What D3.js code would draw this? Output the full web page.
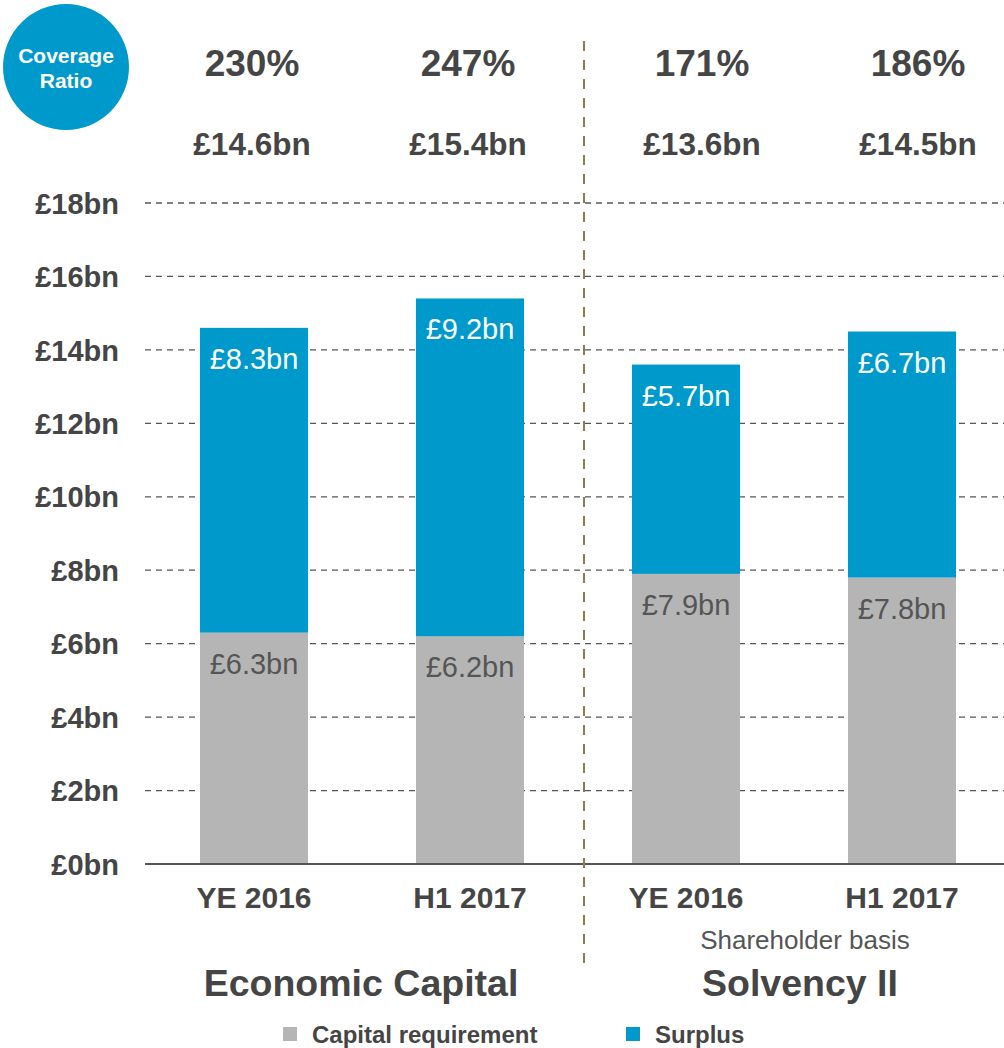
<!DOCTYPE html>
<html>
<head>
<meta charset="utf-8">
<script src="https://cdn.jsdelivr.net/npm/d3@7"></script>
<style>
  body { margin: 0; background: #fff; }
  svg { display: block; font-family: "Liberation Sans", Arial, sans-serif; }
</style>
</head>
<body>
<svg id="chart" width="1004" height="1048"></svg>
<script>
// data
var periods = ["YE 2016", "H1 2017", "YE 2016", "H1 2017"];
var groups = ["Economic Capital", "Solvency II"];
var requirement = [6.3, 6.2, 7.9, 7.8];
var surplus = [8.3, 9.2, 5.7, 6.7];
var coverage = ["230%", "247%", "171%", "186%"];
var totals = ["£14.6bn", "£15.4bn", "£13.6bn", "£14.5bn"];
var yTicks = [0, 2, 4, 6, 8, 10, 12, 14, 16, 18];

var blue = "#0099cc";
var grey = "#b5b5b5";
var ink = "#454545";

var svg = d3.select("#chart");

var x = d3.scaleBand()
    .domain(d3.range(periods.length))
    .range([146, 1010])
    .paddingInner(0.5)
    .paddingOuter(0.25);

var y = d3.scaleLinear()
    .domain([0, 18])
    .range([864, 203]);

// headline figures for Solvency II sit a little right of their bars
function headX(i) {
    return x(i) + x.bandwidth() / 2 + (i >= 2 ? 16 : -2);
}

// gridlines
svg.append("g")
    .selectAll("line")
    .data(yTicks.filter(d => d > 0))
    .enter().append("line")
    .attr("x1", 145)
    .attr("x2", 1004)
    .attr("y1", d => y(d))
    .attr("y2", d => y(d))
    .attr("stroke", "#555")
    .attr("stroke-width", 1.3)
    .attr("stroke-dasharray", "6,5");

// y axis labels
var yAxis = d3.axisLeft(y)
    .tickValues(yTicks)
    .tickSize(0)
    .tickPadding(0)
    .tickFormat(d => "£" + d + "bn");
var yg = svg.append("g")
    .attr("transform", "translate(119,0)")
    .call(yAxis);
yg.select(".domain").remove();
yg.selectAll("text")
    .attr("font-family", "Liberation Sans, Arial, sans-serif")
    .attr("font-size", 29)
    .attr("font-weight", "bold")
    .attr("fill", ink)
    .attr("dy", "0.35em");

// stacked bars
var stacked = periods.map((p, i) => ({ i: i, req: requirement[i], sur: surplus[i] }));

var bars = svg.append("g").selectAll("g")
    .data(stacked)
    .enter().append("g");

bars.append("rect")
    .attr("x", d => x(d.i))
    .attr("width", x.bandwidth())
    .attr("y", d => y(d.req))
    .attr("height", d => y(0) - y(d.req))
    .attr("fill", grey);

bars.append("rect")
    .attr("x", d => x(d.i))
    .attr("width", x.bandwidth())
    .attr("y", d => y(d.req + d.sur))
    .attr("height", d => y(d.req) - y(d.req + d.sur))
    .attr("fill", blue);

bars.append("text")
    .attr("x", d => x(d.i) + x.bandwidth() / 2)
    .attr("y", d => y(d.req + d.sur) + 41)
    .attr("text-anchor", "middle")
    .attr("font-size", 29)
    .attr("fill", "#fff")
    .text(d => "£" + d.sur.toFixed(1) + "bn");

bars.append("text")
    .attr("x", d => x(d.i) + x.bandwidth() / 2)
    .attr("y", d => y(d.req) + 41)
    .attr("text-anchor", "middle")
    .attr("font-size", 29)
    .attr("fill", "#555")
    .text(d => "£" + d.req.toFixed(1) + "bn");

// baseline
svg.append("line")
    .attr("x1", 145)
    .attr("x2", 1004)
    .attr("y1", y(0))
    .attr("y2", y(0))
    .attr("stroke", "#555")
    .attr("stroke-width", 2);

// x labels
var xAxis = d3.axisBottom(x)
    .tickSize(0)
    .tickPadding(0)
    .tickFormat(i => periods[i]);
var xg = svg.append("g")
    .attr("transform", "translate(0,908)")
    .call(xAxis);
xg.select(".domain").remove();
xg.selectAll("text")
    .attr("font-family", "Liberation Sans, Arial, sans-serif")
    .attr("font-size", 30)
    .attr("font-weight", "bold")
    .attr("fill", ink)
    .attr("dy", 0);

// coverage + totals on top
svg.append("g").selectAll("text")
    .data(coverage)
    .enter().append("text")
    .attr("x", (d, i) => headX(i))
    .attr("y", 76)
    .attr("text-anchor", "middle")
    .attr("font-size", 37)
    .attr("font-weight", "bold")
    .attr("fill", ink)
    .text(d => d);

svg.append("g").selectAll("text")
    .data(totals)
    .enter().append("text")
    .attr("x", (d, i) => headX(i))
    .attr("y", 155)
    .attr("text-anchor", "middle")
    .attr("font-size", 31.5)
    .attr("font-weight", "bold")
    .attr("fill", ink)
    .text(d => d);

// divider between the two groups
var divX = 584;
svg.append("line")
    .attr("x1", divX)
    .attr("x2", divX)
    .attr("y1", 41)
    .attr("y2", 966)
    .attr("stroke", "#8c7b4f")
    .attr("stroke-width", 2)
    .attr("stroke-dasharray", "10,9");

// coverage ratio badge
svg.append("circle")
    .attr("cx", 66)
    .attr("cy", 67)
    .attr("r", 63)
    .attr("fill", blue);
svg.append("text")
    .attr("x", 66)
    .attr("y", 63)
    .attr("text-anchor", "middle")
    .attr("font-size", 21)
    .attr("font-weight", "bold")
    .attr("fill", "#fff")
    .text("Coverage");
svg.append("text")
    .attr("x", 66)
    .attr("y", 88)
    .attr("text-anchor", "middle")
    .attr("font-size", 21)
    .attr("font-weight", "bold")
    .attr("fill", "#fff")
    .text("Ratio");

// group titles
svg.append("text")
    .attr("x", 805)
    .attr("y", 949)
    .attr("text-anchor", "middle")
    .attr("font-size", 26)
    .attr("fill", "#555")
    .text("Shareholder basis");

var groupX = [361, 800];
svg.append("g").selectAll("text")
    .data(groups)
    .enter().append("text")
    .attr("x", (d, i) => groupX[i])
    .attr("y", 996)
    .attr("text-anchor", "middle")
    .attr("font-size", 37.5)
    .attr("font-weight", "bold")
    .attr("fill", ink)
    .text(d => d);

// legend
var legend = [
    { label: "Capital requirement", color: grey, x: 283 },
    { label: "Surplus", color: blue, x: 626 }
];
var lg = svg.append("g").selectAll("g")
    .data(legend)
    .enter().append("g")
    .attr("transform", d => "translate(" + d.x + ",1027)");
lg.append("rect")
    .attr("width", 14)
    .attr("height", 14)
    .attr("fill", d => d.color);
lg.append("text")
    .attr("x", 29)
    .attr("y", 16)
    .attr("font-size", 24)
    .attr("font-weight", "bold")
    .attr("fill", ink)
    .text(d => d.label);
</script>
</body>
</html>
